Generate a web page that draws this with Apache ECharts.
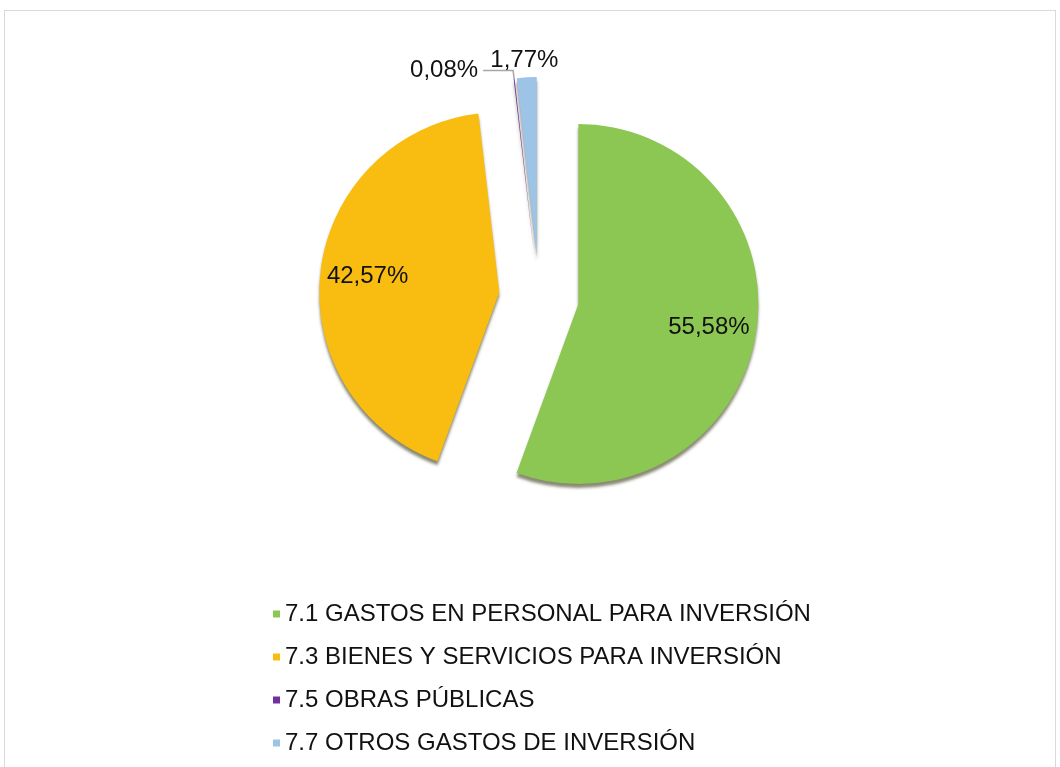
<!DOCTYPE html>
<html lang="es">
<head>
<meta charset="utf-8" />
<title>Gastos de inversión</title>
<style>
	html, body { margin: 0; padding: 0; background: #fff; }
	#frame { position: absolute; left: 4px; top: 10px; width: 1050px; height: 800px; border: 1px solid #d9d9d9; }
	#chart { position: absolute; left: 0; top: 0; width: 1060px; height: 767px; }
</style>
</head>
<body>
<div id="frame"></div>
<div id="chart"></div>
<script src="https://cdn.jsdelivr.net/npm/echarts@6/dist/echarts.min.js"></script>
<script>
	// datos del gráfico
	const categories = [
		"7.1 GASTOS EN PERSONAL PARA INVERSIÓN",
		"7.3 BIENES Y SERVICIOS PARA INVERSIÓN",
		"7.5 OBRAS PÚBLICAS",
		"7.7 OTROS GASTOS DE INVERSIÓN"
	];
	const values = [55.58, 42.57, 0.08, 1.77];
	const colors = ["#8cc653", "#f9bd12", "#7030a0", "#9dc3e6"];

	const total = values.reduce(function (a, b) { return a + b; }, 0);
	const R = 180;

	// angulo medio de cada porcion (desde arriba, sentido horario)
	const midAngles = [];
	let acc = 0;
	for (let i = 0; i < values.length; i++) {
		midAngles.push((acc + values[i] / 2) / total * Math.PI * 2);
		acc += values[i];
	}

	const chart = echarts.init(document.getElementById("chart"));
	const pieData = [];
	for (let i = 0; i < values.length; i++) {
		const inside = values[i] > 10;
		const item = {
			name: categories[i],
			value: values[i],
			selected: true,
			label: { position: inside ? "inside" : "outside" }
		};
		if (i === 3) {
			// sin linea guia visible
			item.labelLine = { show: true, length: 8, length2: 0, lineStyle: { opacity: 0 } };
		}
		pieData.push(item);
	}

	chart.setOption({
		animation: false,
		color: colors,
		legend: {
			orient: "vertical",
			left: 268,
			top: 597,
			itemWidth: 7,
			itemHeight: 7,
			itemGap: 19,
			icon: "rect",
			selectedMode: false,
			textStyle: { fontFamily: "Liberation Sans", fontSize: 24, color: "#111" },
			data: categories
		},
		series: [{
			type: "pie",
			center: [539, 297],
			radius: R,
			startAngle: 90,
			clockwise: true,
			selectedMode: "multiple",
			selectedOffset: 40,
			avoidLabelOverlap: false,
			itemStyle: {
				shadowColor: "rgba(40,40,0,0.55)",
				shadowBlur: 3,
				shadowOffsetY: 4
			},
			emphasis: { disabled: true },
			label: {
				fontFamily: "Liberation Sans",
				fontSize: 24,
				color: "#111",
				formatter: function (p) {
					return p.value.toFixed(2).replace(".", ",") + "%";
				}
			},
			labelLine: {
				length: 8,
				length2: 30,
				lineStyle: { color: "#a6a6a6", width: 1.5 }
			},
			labelLayout: function (p) {
				const i = p.dataIndex;
				if (values[i] > 10) {
					// llevar las etiquetas interiores hacia el borde
					const k = 0.22 * R;
					return { dx: Math.sin(midAngles[i]) * k, dy: -Math.cos(midAngles[i]) * k };
				}
				if (i === 3) {
					// etiqueta centrada sobre la porcion
					return { dx: 3, dy: -9, align: "center", hideOverlap: false };
				}
				return {};
			},
			data: pieData
		}]
	});
</script>
</body>
</html>
